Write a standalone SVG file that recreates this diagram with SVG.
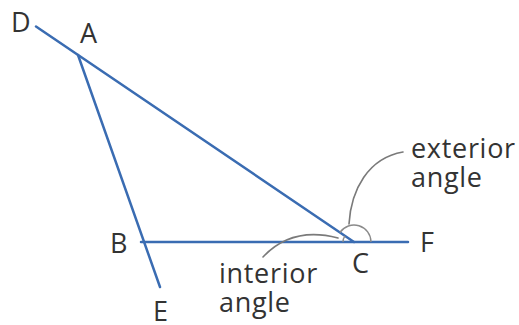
<svg xmlns="http://www.w3.org/2000/svg" width="519" height="325" viewBox="0 0 519 325">
<style>
.ln{stroke:#3a6cb2;stroke-width:2.5;fill:none;stroke-linecap:round}
.arc{stroke:#8a8a8a;stroke-width:1.4;fill:none}
.ld{stroke:#7a7a7a;stroke-width:1.6;fill:none;stroke-linecap:round}
text{font-family:"Open Sans","DejaVu Sans",sans-serif;font-size:27px;fill:#333}
.lbl{letter-spacing:0.7px}
</style>
<rect width="519" height="325" fill="#fff"/>
<g id="connectors">
<line id="DC" class="ln" x1="36" y1="26.5" x2="354" y2="242"/>
<line id="AE" class="ln" x1="78" y1="55" x2="160" y2="287"/>
<line id="BF" class="ln" x1="141" y1="242" x2="408" y2="242"/>
<path id="ext-arc" class="arc" d="M339.9,232.5 A17,17 0 0 1 371,242"/>
<path id="int-arc" class="arc" d="M343,242 A11,11 0 0 1 344.9,235.8"/>
<path id="ext-leader" class="ld" d="M349,224 C351,190 368,158 403,152"/>
<path id="int-leader" class="ld" d="M263,257 Q292,226 338,238"/>
</g>
<g id="D"><text x="11" y="32">D</text></g>
<g id="A"><text x="80" y="43">A</text></g>
<g id="B"><text x="110" y="253">B</text></g>
<g id="C"><text x="352" y="273">C</text></g>
<g id="F"><text x="420" y="252">F</text></g>
<g id="E"><text x="153" y="321">E</text></g>
<g id="exterior-label"><text class="lbl" x="411" y="158">exterior</text><text class="lbl" x="411" y="187">angle</text></g>
<g id="interior-label"><text class="lbl" x="219" y="283">interior</text><text class="lbl" x="219" y="312">angle</text></g>
</svg>
